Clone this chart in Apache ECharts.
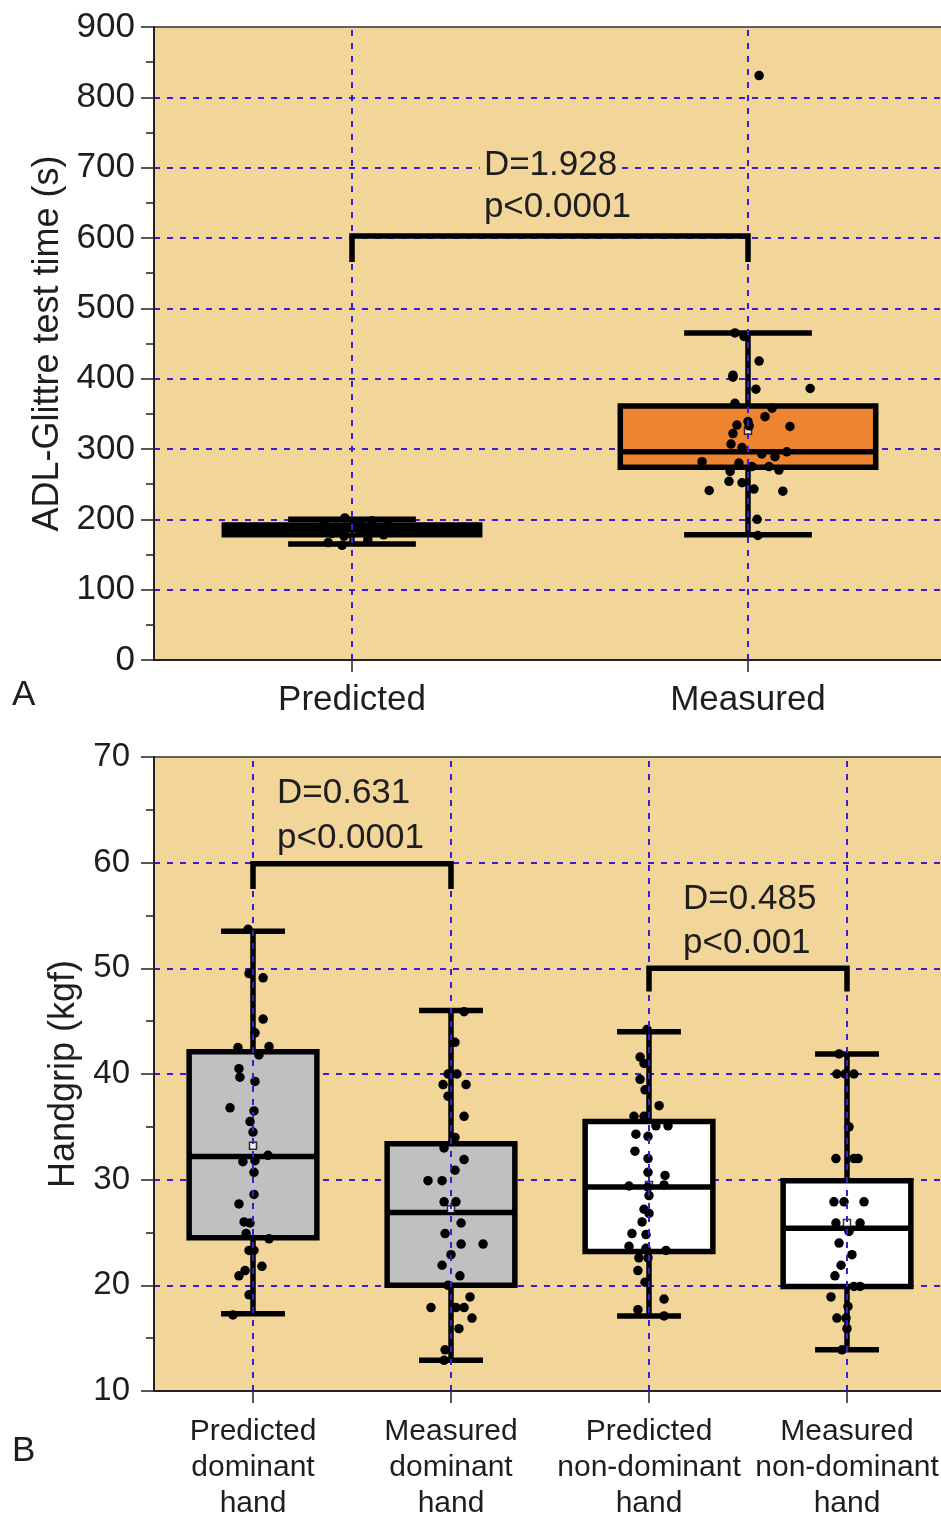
<!DOCTYPE html>
<html><head><meta charset="utf-8">
<script src="https://cdn.jsdelivr.net/npm/echarts@6/dist/echarts.min.js"></script>
<style>html,body{margin:0;padding:0;background:#fff}#chart{width:941px;height:1520px}</style>
</head><body><div id="chart"></div>
<script>
// ---------- DATA ----------
const catsA = ['Predicted', 'Measured'];
const yTicksA = [0, 900, 100];               // min, max, step
const statsA = [[165, 178, 185, 192, 200], [178, 274, 296, 361, 465]]; // min,Q1,median,Q3,max
const meansA = [185, 326];
const ptsPredA = [202, 198, 196, 194, 191, 189, 187, 186, 184, 182, 180, 178, 176, 171, 167, 163];
const jitPredA = [-0.018, 0.05, -0.07, 0.02, 0.09, -0.04, 0.0, 0.06, -0.1, 0.03, -0.05, 0.08, -0.02, 0.04, -0.06, -0.025];
const ptsMeasA = [465, 460, 425, 405, 402, 385, 386, 365, 358, 346, 339, 334, 332, 333, 322, 307, 302, 296, 293, 289, 282, 280, 275, 275, 270, 268, 254, 252, 243, 241, 240, 200, 177, 831];
const jitMeasA = [-0.033, -0.010, 0.028, -0.038, -0.038, 0.020, 0.157, -0.033, 0.061, 0.043, 0, -0.028, 0.106, 0.003, -0.038, -0.043, -0.015, 0.098, 0.035, 0.068, -0.116, -0.023, 0.010, 0.053, 0.078, -0.045, -0.048, -0.015, 0.015, -0.098, 0.088, 0.023, 0.025, 0.028];

const catsB = ['Predicted\ndominant\nhand', 'Measured\ndominant\nhand', 'Predicted\nnon-dominant\nhand', 'Measured\nnon-dominant\nhand'];
const yTicksB = [10, 70, 10];
const statsB = [[17.3, 24.5, 32.2, 42.1, 53.5], [12.9, 20.0, 26.9, 33.4, 46.0], [17.1, 23.2, 29.3, 35.5, 44.0], [13.9, 19.9, 25.4, 29.9, 41.9]];
const meansB = [33.2, 27.2, 29.5, 25.9];
const ptsPD = [53.7, 49.5, 49.1, 45.2, 43.9, 42.5, 42.6, 41.8, 40.5, 39.7, 39.3, 36.8, 36.5, 35.5, 34.5, 32.3, 31.7, 31.8, 30.7, 28.6, 27.7, 26.0, 25.9, 24.9, 24.4, 23.3, 23.3, 21.8, 21.4, 20.9, 19.1, 17.2];
const jitPD = [-0.025, -0.020, 0.051, 0.051, 0.010, -0.076, 0.081, 0.030, -0.071, -0.066, 0.010, -0.116, 0.005, -0.015, 0, 0.076, -0.051, 0.010, 0.005, 0.005, -0.071, -0.045, -0.015, -0.035, 0.081, -0.020, 0.005, 0.045, -0.040, -0.071, -0.020, -0.101];
const ptsMD = [45.9, 43.0, 40.0, 40.0, 39.0, 39.0, 37.9, 36.0, 34.0, 33.0, 31.9, 30.9, 29.9, 29.9, 27.9, 27.9, 25.9, 24.9, 23.9, 23.9, 22.9, 21.9, 20.9, 20.0, 18.9, 17.9, 17.9, 17.9, 16.9, 15.9, 13.9, 12.9];
const jitMD = [0.066, 0.020, -0.015, 0.030, -0.040, 0.076, -0.015, 0.066, 0.020, -0.035, 0.066, 0.020, -0.116, -0.045, -0.035, 0.025, 0.051, -0.030, 0.051, 0.162, 0, -0.045, 0.045, -0.015, 0.096, -0.101, 0.025, 0.066, 0.106, 0.040, -0.030, -0.035];
const ptsPN = [44.2, 41.6, 41.0, 39.5, 38.5, 37.0, 36.0, 36.0, 35.1, 35.1, 34.3, 34.1, 32.7, 32.0, 30.7, 30.4, 29.4, 29.3, 29.5, 28.5, 27.2, 26.8, 26.0, 24.9, 24.8, 23.7, 23.5, 23.3, 22.6, 22.6, 21.4, 20.3, 18.7, 17.7, 17.1];
const jitPN = [-0.010, -0.045, -0.025, -0.045, -0.020, 0.051, -0.076, -0.025, 0.035, 0.096, -0.066, -0.005, -0.071, -0.005, -0.005, 0.081, -0.101, -0.005, 0.076, 0, -0.025, 0, -0.035, -0.086, -0.015, -0.101, -0.015, 0.086, -0.051, -0.005, -0.056, -0.020, 0.076, -0.056, 0.076];
const ptsMN = [41.9, 40.0, 40.0, 40.0, 35.0, 32.0, 32.0, 32.0, 27.9, 27.9, 27.9, 25.9, 25.9, 25.1, 24.0, 22.9, 21.9, 20.9, 19.9, 19.9, 18.9, 18.0, 16.9, 16.9, 15.9, 13.9];
const jitMN = [-0.040, -0.051, -0.010, 0.035, 0.010, -0.056, 0.035, 0.056, -0.066, -0.015, 0.086, -0.056, 0.066, 0.010, -0.040, 0.025, -0.030, -0.061, 0.035, 0.066, -0.081, 0.005, -0.051, -0.005, 0, -0.025];

// significance brackets: [fromCat, toCat, barValue, tipValue]
const bracketsA = [[0, 1, 603, 566]];
const bracketsB = [[0, 1, 59.9, 57.5], [2, 3, 50.0, 47.8]];
// annotation texts and anchor (x in category units, y in data units)
const notesA = ['D=1.928', 'p<0.0001'];
const notesAPos = [[0.323, 704], [0.323, 643]];
const notesB = ['D=0.631', 'p<0.0001', 'D=0.485', 'p<0.001'];
const notesBPos = [[0.101, 66.6], [0.101, 62.3], [2.152, 56.5], [2.152, 52.4]];

// ---------- STYLE ----------
const FONT = "'Liberation Sans', Arial, sans-serif";
const TXT = '#1e1e1e';
const BG = '#F2D598';
const GRIDC = '#3A1FD2';
const DASH = [6, 7];
const fillsA = ['#000000', '#EE842F'];
const fillsB = ['#C0C0C0', '#C0C0C0', '#FFFFFF', '#FFFFFF'];

const chart = echarts.init(document.getElementById('chart'), null, { renderer: 'canvas' });

function boxRender(fills) {
  return function (params, api) {
    const i = api.value(0);
    const band = api.size([1, 0])[0];
    const bw = band * 0.645, cw = bw * 0.5;
    const pMin = api.coord([i, api.value(1)]), pQ1 = api.coord([i, api.value(2)]);
    const pMed = api.coord([i, api.value(3)]), pQ3 = api.coord([i, api.value(4)]);
    const pMax = api.coord([i, api.value(5)]);
    const x = pMin[0];
    const ls = { stroke: '#000', lineWidth: 5.5, fill: null };
    return {
      type: 'group', children: [
        { type: 'line', shape: { x1: x, y1: pMax[1], x2: x, y2: pMin[1] }, style: ls },
        { type: 'line', shape: { x1: x - cw / 2, y1: pMax[1], x2: x + cw / 2, y2: pMax[1] }, style: ls },
        { type: 'line', shape: { x1: x - cw / 2, y1: pMin[1], x2: x + cw / 2, y2: pMin[1] }, style: ls },
        { type: 'rect', shape: { x: x - bw / 2, y: pQ3[1], width: bw, height: pQ1[1] - pQ3[1] }, style: { fill: fills[i], stroke: '#000', lineWidth: 5.5 } },
        { type: 'line', shape: { x1: x - bw / 2, y1: pMed[1], x2: x + bw / 2, y2: pMed[1] }, style: ls }
      ]
    };
  };
}
function bracketRender(params, api) {
  const a = api.coord([api.value(0), api.value(2)]);
  const b = api.coord([api.value(1), api.value(2)]);
  const a2 = api.coord([api.value(0), api.value(3)]);
  const b2 = api.coord([api.value(1), api.value(3)]);
  return { type: 'polyline', shape: { points: [a2, a, b, b2] }, style: { stroke: '#000', lineWidth: 5.5, fill: null, lineJoin: 'miter' } };
}
function noteRender(texts) {
  return function (params, api) {
    const p = api.coord([api.value(0), api.value(1)]);
    return { type: 'text', x: p[0], y: p[1], style: { text: texts[params.dataIndex], fill: TXT, font: '35px ' + FONT, align: 'left', verticalAlign: 'middle', backgroundColor: BG, padding: [0, 4, 0, 4] } };
  };
}
function jitterData(cat, vals, jit) { return vals.map((v, k) => [cat + jit[k], v]); }
function ptsSeries(xIdx, yIdx, data) {
  return { type: 'scatter', xAxisIndex: xIdx, yAxisIndex: yIdx, data: data, symbol: 'circle', symbolSize: 9.5, itemStyle: { color: '#000', opacity: 1 }, z: 4, silent: true, animation: false };
}
function vLines(xIdx, yIdx, n) {
  const d = []; for (let i = 0; i < n; i++) d.push({ xAxis: i });
  return { type: 'scatter', xAxisIndex: xIdx, yAxisIndex: yIdx, data: [], z: 1, silent: true,
    markLine: { silent: true, symbol: 'none', animation: false, label: { show: false }, lineStyle: { color: GRIDC, width: 2, type: DASH }, data: d } };
}
function yAxis(grid, t, fs, margin, name, gap) {
  return {
    type: 'value', gridIndex: grid, min: t[0], max: t[1], interval: t[2],
    name: name, nameLocation: 'middle', nameGap: gap, nameRotate: 90,
    nameTextStyle: { fontSize: 36, fontFamily: FONT, color: TXT },
    axisLine: { show: true, onZero: false, lineStyle: { color: '#222', width: 2 } },
    axisTick: { show: true, length: 13, lineStyle: { color: '#222', width: 1.5 } },
    minorTick: { show: true, splitNumber: 2, length: 8, lineStyle: { color: '#222', width: 1.5 } },
    axisLabel: { fontSize: fs, fontFamily: FONT, color: TXT, margin: margin },
    splitLine: { show: true, showMinLine: false, showMaxLine: false, lineStyle: { color: GRIDC, width: 2, type: DASH } },
    minorSplitLine: { show: false }
  };
}
function xCat(grid, cats, fs, margin, lh) {
  return {
    type: 'category', gridIndex: grid, data: cats, boundaryGap: true,
    axisLine: { show: true, onZero: false, lineStyle: { color: '#222', width: 2 } },
    axisTick: { show: true, alignWithLabel: true, length: 12, lineStyle: { color: '#222', width: 1.5 } },
    axisLabel: { interval: 0, fontSize: fs, fontFamily: FONT, color: TXT, margin: margin, lineHeight: lh, hideOverlap: false },
    splitLine: { show: false }
  };
}
function xVal(grid, n) {
  return { type: 'value', gridIndex: grid, min: -0.5, max: n - 0.5, show: false,
    axisLine: { show: false, onZero: false }, axisTick: { show: false }, axisLabel: { show: false }, splitLine: { show: false } };
}

const option = {
  animation: false,
  backgroundColor: '#ffffff',
  grid: [
    { left: 154, top: 27, width: 792, height: 633, show: true, backgroundColor: BG, borderColor: '#333', borderWidth: 1.5, outerBoundsMode: 'none', containLabel: false },
    { left: 154, top: 757, width: 792, height: 634, show: true, backgroundColor: BG, borderColor: '#333', borderWidth: 1.5, outerBoundsMode: 'none', containLabel: false }
  ],
  xAxis: [
    xCat(0, catsA, 35, 20, 40),
    xCat(1, catsB, 30, 23, 36),
    xVal(0, catsA.length),
    xVal(1, catsB.length)
  ],
  yAxis: [
    yAxis(0, yTicksA, 35, 19, 'ADL-Glittre test time (s)', 88),
    yAxis(1, yTicksB, 33, 24, 'Handgrip (kgf)', 70)
  ],
  graphic: [
    { type: 'text', left: 12, top: 678, style: { text: 'A', font: '35px ' + FONT, fill: TXT } },
    { type: 'text', left: 12, top: 1434, style: { text: 'B', font: '35px ' + FONT, fill: TXT } }
  ],
  series: [
    vLines(2, 0, catsA.length),
    vLines(3, 1, catsB.length),
    { type: 'custom', xAxisIndex: 0, yAxisIndex: 0, z: 3, silent: true, renderItem: boxRender(fillsA),
      encode: { x: 0, y: [1, 2, 3, 4, 5] }, data: statsA.map((s, i) => [i].concat(s)) },
    { type: 'custom', xAxisIndex: 1, yAxisIndex: 1, z: 3, silent: true, renderItem: boxRender(fillsB),
      encode: { x: 0, y: [1, 2, 3, 4, 5] }, data: statsB.map((s, i) => [i].concat(s)) },
    { type: 'scatter', xAxisIndex: 0, yAxisIndex: 0, z: 3.5, silent: true, symbol: 'rect', symbolSize: 7,
      itemStyle: { color: '#fff', borderColor: '#000', borderWidth: 1.5 }, data: meansA.map((m, i) => [i, m]) },
    { type: 'scatter', xAxisIndex: 1, yAxisIndex: 1, z: 3.5, silent: true, symbol: 'rect', symbolSize: 7,
      itemStyle: { color: '#fff', borderColor: '#000', borderWidth: 1.5 }, data: meansB.map((m, i) => [i, m]) },
    ptsSeries(2, 0, jitterData(0, ptsPredA, jitPredA)),
    ptsSeries(2, 0, jitterData(1, ptsMeasA, jitMeasA)),
    ptsSeries(3, 1, jitterData(0, ptsPD, jitPD)),
    ptsSeries(3, 1, jitterData(1, ptsMD, jitMD)),
    ptsSeries(3, 1, jitterData(2, ptsPN, jitPN)),
    ptsSeries(3, 1, jitterData(3, ptsMN, jitMN)),
    { type: 'custom', xAxisIndex: 0, yAxisIndex: 0, z: 6, silent: true, renderItem: bracketRender, encode: { x: [0, 1], y: [2, 3] }, data: bracketsA },
    { type: 'custom', xAxisIndex: 1, yAxisIndex: 1, z: 6, silent: true, renderItem: bracketRender, encode: { x: [0, 1], y: [2, 3] }, data: bracketsB },
    { type: 'custom', xAxisIndex: 2, yAxisIndex: 0, z: 6, silent: true, renderItem: noteRender(notesA), encode: { x: 0, y: 1 }, data: notesAPos },
    { type: 'custom', xAxisIndex: 3, yAxisIndex: 1, z: 6, silent: true, renderItem: noteRender(notesB), encode: { x: 0, y: 1 }, data: notesBPos }
  ]
};
chart.setOption(option);
</script>
</body></html>
